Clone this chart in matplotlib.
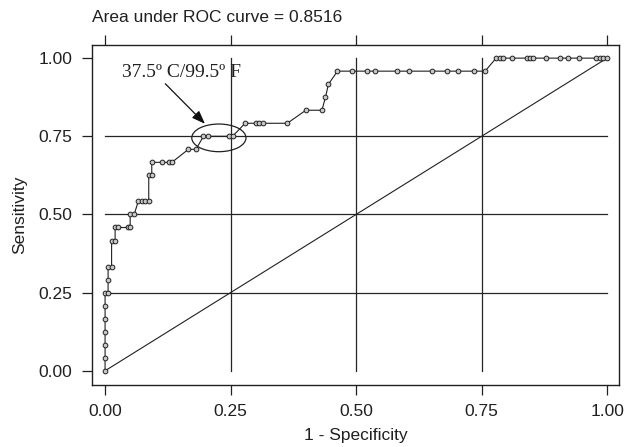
import matplotlib
matplotlib.use("Agg")
import matplotlib.pyplot as plt
from matplotlib.patches import Ellipse

# ROC points: (1 - specificity, sensitivity); sensitivity steps of 1/24
spec1 = [0, 0, 0, 0, 0, 0, 0, 0.006, 0.006, 0.006, 0.013, 0.013, 0.020,
         0.020, 0.026, 0.045, 0.050, 0.050, 0.058,
         0.066, 0.073, 0.080, 0.087, 0.087, 0.093,
         0.093, 0.113, 0.127, 0.133, 0.166, 0.181,
         0.196, 0.205, 0.247, 0.254,
         0.279, 0.300, 0.307, 0.315, 0.363,
         0.400, 0.432, 0.439, 0.445,
         0.463, 0.491, 0.521, 0.537, 0.582, 0.605, 0.651, 0.681, 0.704, 0.734, 0.757,
         0.779, 0.786, 0.792, 0.810, 0.840, 0.847, 0.853, 0.878, 0.906, 0.923,
         0.945, 0.978, 0.985, 0.991, 1.000]
sens_k = [0, 1, 2, 3, 4, 5, 6, 6, 7, 8, 8, 10, 10,
          11, 11, 11, 11, 12, 12,
          13, 13, 13, 13, 15, 15,
          16, 16, 16, 16, 17, 17,
          18, 18, 18, 18,
          19, 19, 19, 19, 19,
          20, 20, 21, 22,
          23, 23, 23, 23, 23, 23, 23, 23, 23, 23, 23,
          24, 24, 24, 24, 24, 24, 24, 24, 24, 24,
          24, 24, 24, 24, 24]
n_pos = 24
sens = [k / n_pos for k in sens_k]

ticks = [0.0, 0.25, 0.5, 0.75, 1.0]
tick_labels = ["0.00", "0.25", "0.50", "0.75", "1.00"]
grid_vals = [0.25, 0.5, 0.75]
title = "Area under ROC curve = 0.8516"
annot = "37.5º C/99.5º F"

sans = ["Liberation Sans", "DejaVu Sans"]
serif = ["Liberation Serif", "DejaVu Serif"]

fig = plt.figure(figsize=(6.26, 4.47), dpi=100)
ax = fig.add_axes([0.147, 0.139, 0.842, 0.760])

ax.set_xlim(-0.026, 1.024)
ax.set_ylim(-0.045, 1.0415)

for g in grid_vals:
    ax.plot([g, g], [0, 1], color="#252525", lw=0.9, zorder=1)
    ax.plot([0, 1], [g, g], color="#252525", lw=0.9, zorder=1)

ax.plot([0, 1], [0, 1], color="#202020", lw=0.8, zorder=2)

ax.plot(spec1, sens, color="#202020", lw=0.8, marker="o", markersize=3.4,
        markerfacecolor="#c8c8c8", markeredgecolor="#202020",
        markeredgewidth=0.7, zorder=3)

ell = Ellipse((0.2267, 0.745), 0.108, 0.0885, fill=False,
              edgecolor="#202020", lw=0.9, zorder=4)
ax.add_patch(ell)
ax.annotate("", xy=(0.199, 0.79), xytext=(0.12, 0.918),
            arrowprops=dict(arrowstyle="-|>,head_length=0.8,head_width=0.3",
                            color="#101010", lw=0.9, shrinkA=0, shrinkB=0),
            zorder=5)
ax.text(0.034, 0.955, annot, fontsize=14, family=serif, color="#202020",
        ha="left", va="center", zorder=5)

ax.set_xticks(ticks)
ax.set_xticklabels(tick_labels, family=sans, fontsize=12.5)
ax.set_yticks(ticks)
ax.set_yticklabels(tick_labels, family=sans, fontsize=12.5)
ax.tick_params(axis="both", direction="out", length=7, width=0.9,
               color="#202020", pad=7, labelcolor="#202020")
ax.tick_params(axis="x", top=True)
for s in ax.spines.values():
    s.set_linewidth(1.0)
    s.set_color("#202020")

ax.set_xlabel("1 - Specificity", family=sans, fontsize=12.5, color="#202020", labelpad=6)
ax.set_ylabel("Sensitivity", family=sans, fontsize=12.5, color="#202020", labelpad=8)
fig.text(92 / 626, 1 - 18 / 447, title, family=sans, fontsize=12.5,
         color="#202020", ha="left", va="center")

fig.savefig("out.png", dpi=100)
